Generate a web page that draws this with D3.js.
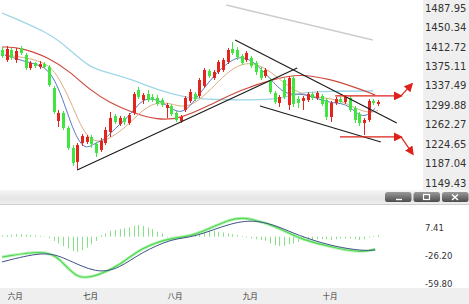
<!DOCTYPE html>
<html>
<head>
<meta charset="utf-8">
<script src="https://cdn.jsdelivr.net/npm/d3@7"></script>
<style>
  html, body { margin: 0; padding: 0; background: #fff; }
  svg { display: block; font-family: "DejaVu Sans", Verdana, sans-serif; }
</style>
</head>
<body>
<svg id="chart" width="469" height="304"></svg>
<script>
// daily candles, index 0..80
const opens = [1406.7,1387.4,1406.7,1387.4,1410.6,1397.0,1371.9,1381.6,1373.8,1379.6,
  1373.8,1333.2,1269.4,1284.9,1255.9,1217.2,1190.1,1226.8,1228.8,1238.5,
  1224.9,1213.3,1226.8,1248.1,1279.1,1263.6,1275.2,1265.5,1284.9,1329.4,
  1310.0,1321.6,1315.8,1313.9,1310.0,1294.5,1298.4,1284.9,1269.4,1290.7,
  1308.1,1321.6,1317.8,1337.1,1366.1,1352.6,1364.2,1368.0,1383.5,1408.7,
  1406.7,1395.1,1387.4,1391.3,1381.6,1368.0,1356.4,1348.7,1323.6,1304.2,
  1348.7,1300.3,1352.6,1311.9,1308.1,1310.0,1321.6,1313.9,1317.8,1310.0,
  1277.1,1304.2,1311.9,1306.1,1313.9,1294.5,1282.9,1265.5,1271.3,1308.1,1302.3];
const highs = [1412.5,1414.5,1410.6,1410.6,1414.5,1400.9,1385.4,1383.5,1385.4,1383.5,
  1377.7,1337.1,1290.7,1288.7,1259.7,1223.0,1226.8,1244.3,1242.3,1242.3,
  1228.8,1236.5,1257.8,1286.8,1282.9,1279.1,1279.1,1284.9,1325.5,1335.2,
  1323.6,1329.4,1321.6,1319.7,1313.9,1304.2,1302.3,1288.7,1281.0,1317.8,
  1331.3,1325.5,1352.6,1371.9,1369.9,1368.0,1387.4,1391.3,1410.6,1422.2,
  1412.5,1399.0,1404.8,1395.1,1385.4,1373.8,1371.9,1352.6,1327.4,1319.7,
  1352.6,1356.4,1356.4,1317.8,1317.8,1325.5,1325.5,1327.4,1321.6,1313.9,
  1308.1,1315.8,1315.8,1319.7,1317.8,1298.4,1286.8,1275.2,1311.9,1311.9,1310.0];
const lows = [1391.3,1383.5,1387.4,1381.6,1397.0,1368.0,1368.0,1371.9,1369.9,1369.9,
  1335.2,1282.9,1257.8,1252.0,1213.3,1182.4,1174.6,1221.1,1224.9,1217.2,
  1199.8,1209.5,1223.0,1238.5,1263.6,1259.7,1261.7,1261.7,1281.0,1311.9,
  1302.3,1306.1,1306.1,1298.4,1296.5,1275.2,1279.1,1267.5,1265.5,1286.8,
  1304.2,1308.1,1313.9,1333.2,1352.6,1348.7,1360.3,1364.2,1379.6,1397.0,
  1387.4,1377.7,1383.5,1371.9,1358.4,1348.7,1352.6,1321.6,1302.3,1296.5,
  1311.9,1290.7,1296.5,1294.5,1290.7,1306.1,1310.0,1310.0,1298.4,1271.3,
  1267.5,1300.3,1302.3,1302.3,1286.8,1265.5,1259.7,1242.3,1267.5,1300.3,1298.4];
const closes = [1395.1,1408.7,1391.3,1404.8,1400.9,1371.9,1381.6,1375.8,1379.6,1373.8,
  1339.0,1286.8,1284.9,1255.9,1217.2,1188.2,1223.0,1240.4,1238.5,1224.9,
  1207.5,1230.7,1252.0,1275.2,1267.5,1275.2,1267.5,1281.0,1321.6,1315.8,
  1319.7,1310.0,1310.0,1302.3,1300.3,1300.3,1282.9,1271.3,1277.1,1313.9,
  1325.5,1311.9,1348.7,1368.0,1356.4,1364.2,1383.5,1387.4,1406.7,1400.9,
  1393.2,1381.6,1400.9,1375.8,1364.2,1352.6,1368.0,1325.5,1306.1,1315.8,
  1315.8,1352.6,1302.3,1304.2,1313.9,1321.6,1313.9,1323.6,1302.3,1277.1,
  1304.2,1311.9,1306.1,1315.8,1290.7,1271.3,1265.5,1271.3,1308.1,1304.2,1306.1];

// moving averages as [index, price]
const maFast = [[0.6,1397],[4.9,1384],[9.1,1376],[11.3,1349],[13.4,1300],[15.5,1242],[17.7,1213],[19.8,1227],[21.9,1233],[24.1,1256],[26.2,1271],[28.3,1294],[30.4,1315],[33.6,1310],[36.8,1287],[38.9,1287],[41.1,1310],[44.3,1349],[47.4,1378],[50.6,1397],[53.8,1383],[57,1352],[60.2,1319],[63.4,1323],[66.6,1315],[69.8,1304],[73,1304],[75.1,1287],[77.2,1275],[79.4,1294]];
const maSlow = [[0.6,1397],[6,1391],[10.2,1378],[12.3,1349],[14.5,1310],[16.6,1262],[18.7,1233],[20.8,1229],[23,1236],[26.2,1256],[29.4,1287],[32.6,1306],[35.7,1304],[38.9,1294],[42.1,1310],[45.3,1339],[48.5,1368],[51.7,1383],[54.9,1378],[58.1,1358],[61.3,1333],[64.5,1319],[67.7,1315],[71.9,1310],[75.1,1294],[78.3,1284],[80,1290]];
const maMid = [[0,1412.5],[3.8,1412.5],[10.2,1391.3],[14.5,1364.2],[18.7,1329.4],[23,1304.2],[27.9,1284.9],[33,1271.3],[37.9,1273.3],[44.3,1300.3],[50.6,1329.4],[58.5,1352.6],[63.4,1360.3],[69.8,1350.6],[75.5,1333.2],[79.4,1319.7]];
const maLong = [[0,1478.3],[10.2,1439.6],[14.5,1406.7],[18.7,1371.9],[23,1362.2],[27.9,1348.7],[33,1329.4],[38.5,1315.8],[44.3,1310.0],[59.8,1310.0],[62.3,1323.6],[69.8,1327.4],[79,1327.4]];

// drawn trend lines and arrows [index, price]
const supportLine = [[16,1174.6],[62.8,1371.9]];
const upperChannel = [[49.6,1426.1],[84,1265.5]];
const lowerChannel = [[54.9,1298.4],[80.6,1228.8]];
const faintLine = [[47.7,1493.8],[78.9,1426.1]];
const arrowUp = [[70.9,1317.8],[84.9,1317.8],[87.2,1341.0]];
const arrowDown = [[71.9,1238.5],[84.9,1238.5],[87.4,1205.6]];

const priceTicks = [1487.95,1450.34,1412.72,1375.11,1337.49,1299.88,1262.27,1224.65,1187.04,1149.43];

// MACD panel
const macdHist = [1.5,2,2.5,3,3,2.5,2,1.5,1,0.5,
  -2,-5,-8,-11,-14,-17,-18,-16,-13,-9,-5,
  2,4,7,8,9,10,11,13,14,13,11,9,6,4,
  -1,-2,-3,-2,-1,0.5,
  3,5,6,7,7,6,5,4,3,
  2,1,-1,-2,-3,-4,
  -5,-8,-10,-11,-11,-9,-8,-6,
  -5,-4,-4,-3,-3,-3,-4,-3,-2,-2,-2,-3,-4,-3,-1,1,2];
const dif = [[0,-24.1],[9.1,-15.8],[12.3,-25.3],[16,-51.5],[20.2,-46.7],[25.1,-34.2],[29.4,-13.4],[36.4,-0.3],[40.6,-0.3],[49.1,23.5],[52.8,22.3],[59.1,10.4],[62.8,-1.5],[69.8,-12.2],[76.8,-19.3],[79.4,-14.6]];
const dea = [[0,-30.0],[9.1,-17.0],[13.4,-25.3],[20.2,-44.3],[25.1,-37.2],[29.4,-19.4],[36.4,-1.5],[40.6,-1.5],[49.1,17.5],[54.3,19.9],[59.1,11.6],[62.8,2.1],[69.8,-10.9],[76.8,-17.0],[79.4,-15.8]];
const macdTicks = [7.41,-26.20,-59.80];

const monthIdx = [1,17,35,51,68];
const monthNames = ["六月","七月","八月","九月","十月"];

const svg = d3.select("#chart");
const up = "#e2261e", down = "#42e442";

const x = d3.scaleLinear().domain([0, 80]).range([2, 378]);
const y = d3.scaleLinear().domain([1149.43, 1487.95]).range([183, 8]);
const ym = d3.scaleLinear().domain([-59.80, 7.41]).range([287, 230.5]);

const defs = svg.append("defs");
const sep = defs.append("linearGradient").attr("id", "sep").attr("x1", 0).attr("y1", 0).attr("x2", 0).attr("y2", 1);
sep.append("stop").attr("offset", "0%").attr("stop-color", "#f6f6f6");
sep.append("stop").attr("offset", "60%").attr("stop-color", "#e4e4e4");
sep.append("stop").attr("offset", "100%").attr("stop-color", "#eeeeee");
const btn = defs.append("linearGradient").attr("id", "btn").attr("x1", 0).attr("y1", 0).attr("x2", 0).attr("y2", 1);
btn.append("stop").attr("offset", "0%").attr("stop-color", "#9a9a9a");
btn.append("stop").attr("offset", "100%").attr("stop-color", "#4c4c4c");
defs.append("marker").attr("id", "arr")
  .attr("viewBox", "0 0 10 10").attr("refX", 8).attr("refY", 5)
  .attr("markerUnits", "userSpaceOnUse").attr("markerWidth", 9).attr("markerHeight", 9)
  .attr("orient", "auto")
  .append("path").attr("d", "M0,0L10,5L0,10z").attr("fill", "#e0201a");

// backgrounds
svg.append("rect").attr("width", 469).attr("height", 304).attr("fill", "#fff");
svg.append("rect").attr("x", 423).attr("y", 0).attr("width", 46).attr("height", 190).attr("fill", "#efefef");
svg.append("rect").attr("x", 0).attr("y", 190).attr("width", 469).attr("height", 14).attr("fill", "url(#sep)");
svg.append("line").attr("x1", 0).attr("x2", 469).attr("y1", 204.5).attr("y2", 204.5).attr("stroke", "#cfcfcf");
svg.append("rect").attr("x", 0).attr("y", 288).attr("width", 469).attr("height", 16).attr("fill", "#efefef");

// moving averages
const pline = d3.line().x(d => x(d[0])).y(d => y(d[1])).curve(d3.curveBasis);
const mas = [[maLong, "#9fd6e8", 1.3], [maMid, "#cf4a3e", 1.2], [maSlow, "#dcae80", 1], [maFast, "#5a78c4", 1]];
svg.append("g").selectAll("path").data(mas).join("path")
  .attr("d", d => pline(d[0])).attr("fill", "none")
  .attr("stroke", d => d[1]).attr("stroke-width", d => d[2]);

svg.append("path").attr("d", d3.line().x(d => x(d[0])).y(d => y(d[1]))(faintLine))
  .attr("stroke", "#cdcdcd").attr("stroke-width", 1.5).attr("fill", "none");

// candles
const candles = d3.range(opens.length).map(i => ({i, o: opens[i], h: highs[i], l: lows[i], c: closes[i]}));
const cg = svg.append("g").selectAll("g").data(candles).join("g");
cg.append("line")
  .attr("x1", d => Math.round(x(d.i)) + 0.5).attr("x2", d => Math.round(x(d.i)) + 0.5)
  .attr("y1", d => y(d.h)).attr("y2", d => y(d.l))
  .attr("stroke", d => d.c >= d.o ? up : down);
cg.append("rect")
  .attr("x", d => Math.round(x(d.i)) - 1).attr("width", 3)
  .attr("y", d => y(Math.max(d.o, d.c)))
  .attr("height", d => Math.max(1, Math.abs(y(d.o) - y(d.c))))
  .attr("fill", d => d.c >= d.o ? up : down);

// trend lines
const seg = d3.line().x(d => x(d[0])).y(d => y(d[1]));
svg.append("g").selectAll("path").data([supportLine, upperChannel, lowerChannel]).join("path")
  .attr("d", seg).attr("stroke", "#1c1c1c").attr("stroke-width", 1.2).attr("fill", "none");

// red forecast arrows
[arrowUp, arrowDown].forEach(a => {
  for (let k = 0; k < a.length - 1; k++) {
    svg.append("path").attr("d", seg([a[k], a[k + 1]]))
      .attr("stroke", "#e0201a").attr("stroke-width", 1.2).attr("fill", "none")
      .attr("marker-end", "url(#arr)");
  }
});

// price axis
const ay = svg.append("g").attr("transform", "translate(425,0)")
  .call(d3.axisRight(y).tickValues(priceTicks).tickSize(0).tickPadding(0).tickFormat(d => d.toFixed(2)));
ay.select(".domain").remove();
ay.selectAll("text").attr("font-size", 10).attr("fill", "#333").attr("font-family", "DejaVu Sans");

// MACD
svg.append("g").selectAll("line").data(macdHist).join("line")
  .attr("x1", (d, i) => Math.round(x(i)) + 0.5).attr("x2", (d, i) => Math.round(x(i)) + 0.5)
  .attr("y1", ym(0)).attr("y2", d => ym(d))
  .attr("stroke", "#86e286").attr("stroke-width", 1);
const mline = d3.line().x(d => x(d[0])).y(d => ym(d[1])).curve(d3.curveBasis);
svg.append("path").attr("d", mline(dif)).attr("fill", "none").attr("stroke", "#b8f2b8").attr("stroke-width", 3);
svg.append("path").attr("d", mline(dif)).attr("fill", "none").attr("stroke", "#4fd84f").attr("stroke-width", 1.2);
svg.append("path").attr("d", mline(dea)).attr("fill", "none").attr("stroke", "#3f5288").attr("stroke-width", 1);

const am = svg.append("g").attr("transform", "translate(425,-3)")
  .call(d3.axisRight(ym).tickValues(macdTicks).tickSize(0).tickPadding(0).tickFormat(d => d.toFixed(2)));
am.select(".domain").remove();
am.selectAll("text").attr("font-size", 8.5).attr("fill", "#333").attr("font-family", "DejaVu Sans");

// month labels
svg.append("g").selectAll("text").data(monthIdx).join("text")
  .attr("x", d => x(d) + 1).attr("y", 299)
  .attr("font-size", 7.5).attr("fill", "#333")
  .attr("font-family", "Noto Sans CJK SC")
  .text((d, i) => monthNames[i]);

// window buttons
const buttons = [385, 413.5, 442];
const bg = svg.append("g").selectAll("g").data(buttons).join("g");
bg.append("rect").attr("x", d => d).attr("y", 192).attr("width", 26.5).attr("height", 10).attr("rx", 2.5)
  .attr("fill", "url(#btn)");
svg.append("line").attr("x1", 396).attr("x2", 402).attr("y1", 199.5).attr("y2", 199.5).attr("stroke", "#fff").attr("stroke-width", 1.4);
svg.append("rect").attr("x", 423.5).attr("y", 194.5).attr("width", 6).attr("height", 5).attr("fill", "none").attr("stroke", "#fff").attr("stroke-width", 1.2);
svg.append("path").attr("d", "M452,194.5L458,200M458,194.5L452,200").attr("stroke", "#fff").attr("stroke-width", 1.5);
</script>
</body>
</html>
